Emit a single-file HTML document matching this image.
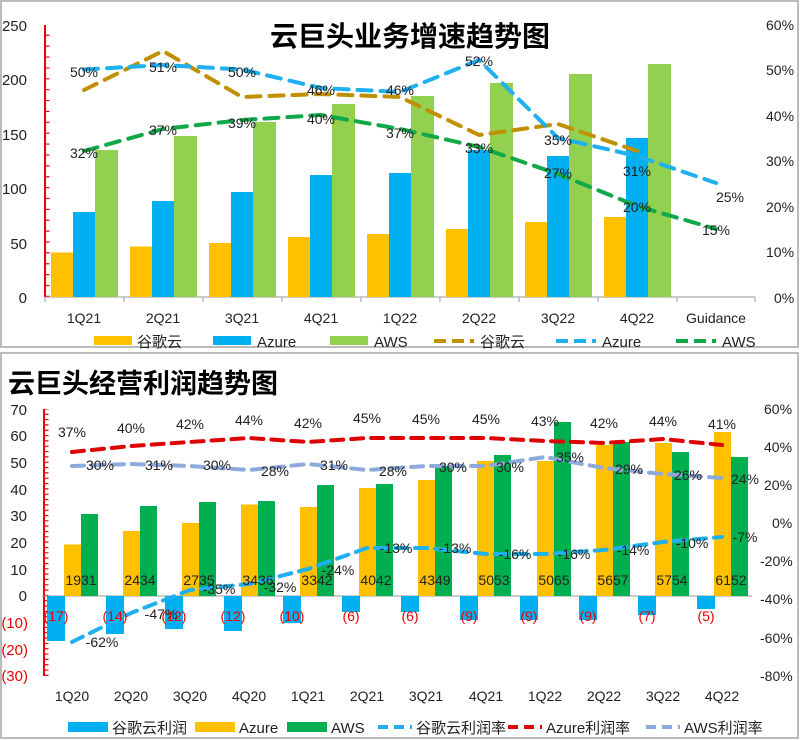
<!DOCTYPE html>
<html><head><meta charset="utf-8"><style>
body{margin:0;background:#fff;}
svg{display:block;font-family:"Liberation Sans","Noto Sans CJK SC",sans-serif;}
</style></head><body>
<svg width="800" height="740" viewBox="0 0 800 740" xmlns="http://www.w3.org/2000/svg">
<rect x="1" y="1" width="797" height="346" fill="#fff" stroke="#bbb" stroke-width="2"/>
<rect x="1" y="353" width="797" height="385" fill="#fff" stroke="#bbb" stroke-width="2"/>
<!-- TOP -->
<text x="410" y="46" font-size="28" font-weight="bold" text-anchor="middle" font-family="'Noto Sans CJK SC',sans-serif">云巨头业务增速趋势图</text>
<g font-size="15" fill="#222" text-anchor="end">
<text x="27" y="31">250</text><text x="27" y="85">200</text><text x="27" y="140">150</text><text x="27" y="194">100</text><text x="27" y="249">50</text><text x="27" y="303">0</text>
</g>
<g font-size="14" fill="#222">
<text x="766" y="30">60%</text><text x="766" y="75">50%</text><text x="766" y="121">40%</text><text x="766" y="166">30%</text><text x="766" y="212">20%</text><text x="766" y="257">10%</text><text x="774" y="303">0%</text>
</g>
<line x1="45" y1="25" x2="45" y2="297" stroke="#e00" stroke-width="2"/>
<line x1="47" y1="297" x2="47" y2="25" stroke="#e00" stroke-width="5" stroke-dasharray="1.2,9.68"/>
<line x1="45" y1="297" x2="755" y2="297" stroke="#999"/>
<g stroke="#999"><line x1="45" y1="297" x2="45" y2="302"/><line x1="124" y1="297" x2="124" y2="302"/><line x1="203" y1="297" x2="203" y2="302"/><line x1="282" y1="297" x2="282" y2="302"/><line x1="361" y1="297" x2="361" y2="302"/><line x1="440" y1="297" x2="440" y2="302"/><line x1="519" y1="297" x2="519" y2="302"/><line x1="598" y1="297" x2="598" y2="302"/><line x1="677" y1="297" x2="677" y2="302"/><line x1="755" y1="297" x2="755" y2="302"/></g>
<g>
<rect x="51" y="252.5" width="22" height="44.5" fill="#FFC000"/><rect x="73" y="212" width="22" height="85" fill="#00B0F0"/><rect x="95" y="150" width="23" height="147" fill="#92D050"/>
<rect x="130" y="246.5" width="22" height="50.5" fill="#FFC000"/><rect x="152" y="201" width="22" height="96" fill="#00B0F0"/><rect x="174" y="136" width="23" height="161" fill="#92D050"/>
<rect x="209" y="243" width="22" height="54" fill="#FFC000"/><rect x="231" y="192" width="22" height="105" fill="#00B0F0"/><rect x="253" y="122" width="23" height="175" fill="#92D050"/>
<rect x="288" y="237" width="22" height="60" fill="#FFC000"/><rect x="310" y="175" width="22" height="122" fill="#00B0F0"/><rect x="332" y="104" width="23" height="193" fill="#92D050"/>
<rect x="367" y="234" width="22" height="63" fill="#FFC000"/><rect x="389" y="173" width="22" height="124" fill="#00B0F0"/><rect x="411" y="96" width="23" height="201" fill="#92D050"/>
<rect x="446" y="229" width="22" height="68" fill="#FFC000"/><rect x="468" y="150" width="22" height="147" fill="#00B0F0"/><rect x="490" y="83" width="23" height="214" fill="#92D050"/>
<rect x="525" y="222" width="22" height="75" fill="#FFC000"/><rect x="547" y="156" width="22" height="141" fill="#00B0F0"/><rect x="569" y="74" width="23" height="223" fill="#92D050"/>
<rect x="604" y="217" width="22" height="80" fill="#FFC000"/><rect x="626" y="138" width="22" height="159" fill="#00B0F0"/><rect x="648" y="64" width="23" height="233" fill="#92D050"/>
</g>
<g fill="none" stroke-width="4" stroke-dasharray="14,9" stroke-linejoin="round" stroke-linecap="round">
<polyline stroke="#C09000" points="84,90 163,51 242,97 321,94 400,97 479,135 558,124 637,151"/>
<polyline stroke="#1EB0F0" points="84,69.5 163,65 242,69.5 321,88 400,92 479,60 558,138 637,156 716,183"/>
<polyline stroke="#10A848" points="84,151 163,129 242,120 321,115 400,129 479,147 558,174 637,206 716,229"/>
</g>
<g font-size="14" fill="#222" text-anchor="middle">
<text x="84" y="77">50%</text><text x="163" y="72">51%</text><text x="242" y="77">50%</text><text x="321" y="95">46%</text><text x="400" y="95">46%</text><text x="479" y="66">52%</text><text x="558" y="145">35%</text><text x="637" y="176">31%</text><text x="730" y="202">25%</text>
<text x="84" y="158">32%</text><text x="163" y="135">37%</text><text x="242" y="128">39%</text><text x="321" y="124">40%</text><text x="400" y="138">37%</text><text x="479" y="153">33%</text><text x="558" y="178">27%</text><text x="637" y="212">20%</text><text x="716" y="235">15%</text>
</g>
<g font-size="14" fill="#222" text-anchor="middle">
<text x="84" y="323">1Q21</text><text x="163" y="323">2Q21</text><text x="242" y="323">3Q21</text><text x="321" y="323">4Q21</text><text x="400" y="323">1Q22</text><text x="479" y="323">2Q22</text><text x="558" y="323">3Q22</text><text x="637" y="323">4Q22</text><text x="716" y="323">Guidance</text>
</g>
<g font-size="15" fill="#222">
<rect x="94" y="336" width="38" height="9" fill="#FFC000"/><text x="137" y="347">谷歌云</text>
<rect x="213" y="336" width="38" height="9" fill="#00B0F0"/><text x="257" y="347">Azure</text>
<rect x="330" y="336" width="38" height="9" fill="#92D050"/><text x="374" y="347">AWS</text>
<line x1="434" y1="341" x2="474" y2="341" stroke="#C09000" stroke-width="4" stroke-dasharray="12,6"/><text x="480" y="347">谷歌云</text>
<line x1="556" y1="341" x2="596" y2="341" stroke="#1EB0F0" stroke-width="4" stroke-dasharray="12,6"/><text x="602" y="347">Azure</text>
<line x1="676" y1="341" x2="716" y2="341" stroke="#10A848" stroke-width="4" stroke-dasharray="12,6"/><text x="722" y="347">AWS</text>
</g>
<!-- BOTTOM -->
<text x="8" y="393" font-size="27" font-weight="bold" font-family="'Noto Sans CJK SC',sans-serif">云巨头经营利润趋势图</text>
<g font-size="15" text-anchor="end" fill="#222">
<text x="27" y="415">70</text><text x="27" y="441">60</text><text x="27" y="468">50</text><text x="27" y="495">40</text><text x="27" y="521">30</text><text x="27" y="548">20</text><text x="27" y="575">10</text><text x="27" y="601">0</text>
<text x="28" y="628" fill="#e00">(10)</text><text x="28" y="655" fill="#e00">(20)</text><text x="28" y="681" fill="#e00">(30)</text>
</g>
<g font-size="14" fill="#222">
<text x="764" y="414">60%</text><text x="764" y="452">40%</text><text x="764" y="490">20%</text><text x="772" y="528">0%</text><text x="760" y="566">-20%</text><text x="760" y="604">-40%</text><text x="760" y="643">-60%</text><text x="760" y="681">-80%</text>
</g>
<line x1="44" y1="409" x2="44" y2="676" stroke="#e00" stroke-width="2"/>
<line x1="46" y1="676" x2="46" y2="409" stroke="#e00" stroke-width="5" stroke-dasharray="1.2,4.13"/>
<line x1="42" y1="596" x2="752" y2="596" stroke="#999"/>
<g>
<rect x="47" y="596" width="18" height="45" fill="#00B0F0"/><rect x="64" y="544.5" width="17" height="51.5" fill="#FFC000"/><rect x="81" y="514" width="17" height="82" fill="#00B050"/>
<rect x="106" y="596" width="18" height="38" fill="#00B0F0"/><rect x="123" y="531" width="17" height="65" fill="#FFC000"/><rect x="140" y="506" width="17" height="90" fill="#00B050"/>
<rect x="165" y="596" width="18" height="33" fill="#00B0F0"/><rect x="182" y="523" width="17" height="73" fill="#FFC000"/><rect x="199" y="502" width="17" height="94" fill="#00B050"/>
<rect x="224" y="596" width="18" height="35" fill="#00B0F0"/><rect x="241" y="504.5" width="17" height="91.5" fill="#FFC000"/><rect x="258" y="501" width="17" height="95" fill="#00B050"/>
<rect x="283" y="596" width="18" height="27" fill="#00B0F0"/><rect x="300" y="507" width="17" height="89" fill="#FFC000"/><rect x="317" y="485" width="17" height="111" fill="#00B050"/>
<rect x="342" y="596" width="18" height="16" fill="#00B0F0"/><rect x="359" y="488" width="17" height="108" fill="#FFC000"/><rect x="376" y="484" width="17" height="112" fill="#00B050"/>
<rect x="401" y="596" width="18" height="16" fill="#00B0F0"/><rect x="418" y="480" width="17" height="116" fill="#FFC000"/><rect x="435" y="466" width="17" height="130" fill="#00B050"/>
<rect x="460" y="596" width="18" height="24" fill="#00B0F0"/><rect x="477" y="461" width="17" height="135" fill="#FFC000"/><rect x="494" y="455" width="17" height="141" fill="#00B050"/>
<rect x="520" y="596" width="18" height="24" fill="#00B0F0"/><rect x="537" y="461" width="17" height="135" fill="#FFC000"/><rect x="554" y="422" width="17" height="174" fill="#00B050"/>
<rect x="579" y="596" width="18" height="24" fill="#00B0F0"/><rect x="596" y="445" width="17" height="151" fill="#FFC000"/><rect x="613" y="442" width="17" height="154" fill="#00B050"/>
<rect x="638" y="596" width="18" height="19" fill="#00B0F0"/><rect x="655" y="443" width="17" height="153" fill="#FFC000"/><rect x="672" y="452" width="17" height="144" fill="#00B050"/>
<rect x="697" y="596" width="18" height="13" fill="#00B0F0"/><rect x="714" y="432" width="17" height="164" fill="#FFC000"/><rect x="731" y="457" width="17" height="139" fill="#00B050"/>
</g>
<g fill="none" stroke-width="4" stroke-dasharray="12,8" stroke-linejoin="round" stroke-linecap="round">
<polyline stroke="#E00000" points="72,452 131,446 190,442 249,438 308,442 367,438 426,438 486,438 545,441 604,443 663,439 722,445"/>
<polyline stroke="#8EA9DB" points="72,466 131,464 190,466 249,470 308,464 367,470 426,466 486,466 545,457 604,468 663,474 722,478"/>
<polyline stroke="#1EB0F0" points="72,642 131,613 190,590 249,584 308,569 367,548 426,548 486,554 545,554 604,550 663,542 722,537"/>
</g>
<g font-size="14" fill="#222" text-anchor="middle">
<text x="72" y="437">37%</text><text x="131" y="433">40%</text><text x="190" y="429">42%</text><text x="249" y="425">44%</text><text x="308" y="428">42%</text><text x="367" y="423">45%</text><text x="426" y="424">45%</text><text x="486" y="424">45%</text><text x="545" y="426">43%</text><text x="604" y="428">42%</text><text x="663" y="426">44%</text><text x="722" y="429">41%</text>
<text x="100" y="470">30%</text><text x="159" y="470">31%</text><text x="217" y="470">30%</text><text x="275" y="476">28%</text><text x="334" y="470">31%</text><text x="393" y="476">28%</text><text x="453" y="472">30%</text><text x="510" y="472">30%</text><text x="570" y="462">35%</text><text x="629" y="474">29%</text><text x="688" y="480">26%</text><text x="745" y="484">24%</text>
<text x="102" y="647">-62%</text><text x="161" y="619">-47%</text><text x="219" y="594">-35%</text><text x="280" y="592">-32%</text><text x="338" y="575">-24%</text><text x="396" y="553">-13%</text><text x="455" y="553">-13%</text><text x="515" y="559">-16%</text><text x="574" y="559">-16%</text><text x="633" y="555">-14%</text><text x="692" y="548">-10%</text><text x="745" y="542">-7%</text>
</g>
<g font-size="14" fill="#222" text-anchor="middle">
<text x="81" y="585">1931</text><text x="140" y="585">2434</text><text x="199" y="585">2735</text><text x="258" y="585">3436</text><text x="317" y="585">3342</text><text x="376" y="585">4042</text><text x="435" y="585">4349</text><text x="494" y="585">5053</text><text x="554" y="585">5065</text><text x="613" y="585">5657</text><text x="672" y="585">5754</text><text x="731" y="585">6152</text>
</g>
<g font-size="14" fill="#e00" text-anchor="middle">
<text x="56" y="621">(17)</text><text x="115" y="621">(14)</text><text x="174" y="621">(12)</text><text x="233" y="621">(12)</text><text x="292" y="621">(10)</text><text x="351" y="621">(6)</text><text x="410" y="621">(6)</text><text x="469" y="621">(9)</text><text x="529" y="621">(9)</text><text x="588" y="621">(9)</text><text x="647" y="621">(7)</text><text x="706" y="621">(5)</text>
</g>
<g font-size="14" fill="#222" text-anchor="middle">
<text x="72" y="701">1Q20</text><text x="131" y="701">2Q20</text><text x="190" y="701">3Q20</text><text x="249" y="701">4Q20</text><text x="308" y="701">1Q21</text><text x="367" y="701">2Q21</text><text x="426" y="701">3Q21</text><text x="486" y="701">4Q21</text><text x="545" y="701">1Q22</text><text x="604" y="701">2Q22</text><text x="663" y="701">3Q22</text><text x="722" y="701">4Q22</text>
</g>
<g font-size="15" fill="#222">
<rect x="68" y="722" width="40" height="10" fill="#00B0F0"/><text x="112" y="733">谷歌云利润</text>
<rect x="195" y="722" width="40" height="10" fill="#FFC000"/><text x="239" y="733">Azure</text>
<rect x="287" y="722" width="40" height="10" fill="#00B050"/><text x="331" y="733">AWS</text>
<line x1="378" y1="727" x2="412" y2="727" stroke="#1EB0F0" stroke-width="4" stroke-dasharray="10,6"/><text x="416" y="733">谷歌云利润率</text>
<line x1="508" y1="727" x2="542" y2="727" stroke="#E00000" stroke-width="4" stroke-dasharray="10,6"/><text x="546" y="733">Azure利润率</text>
<line x1="646" y1="727" x2="680" y2="727" stroke="#8EA9DB" stroke-width="4" stroke-dasharray="10,6"/><text x="684" y="733">AWS利润率</text>
</g>
</svg>
</body></html>
